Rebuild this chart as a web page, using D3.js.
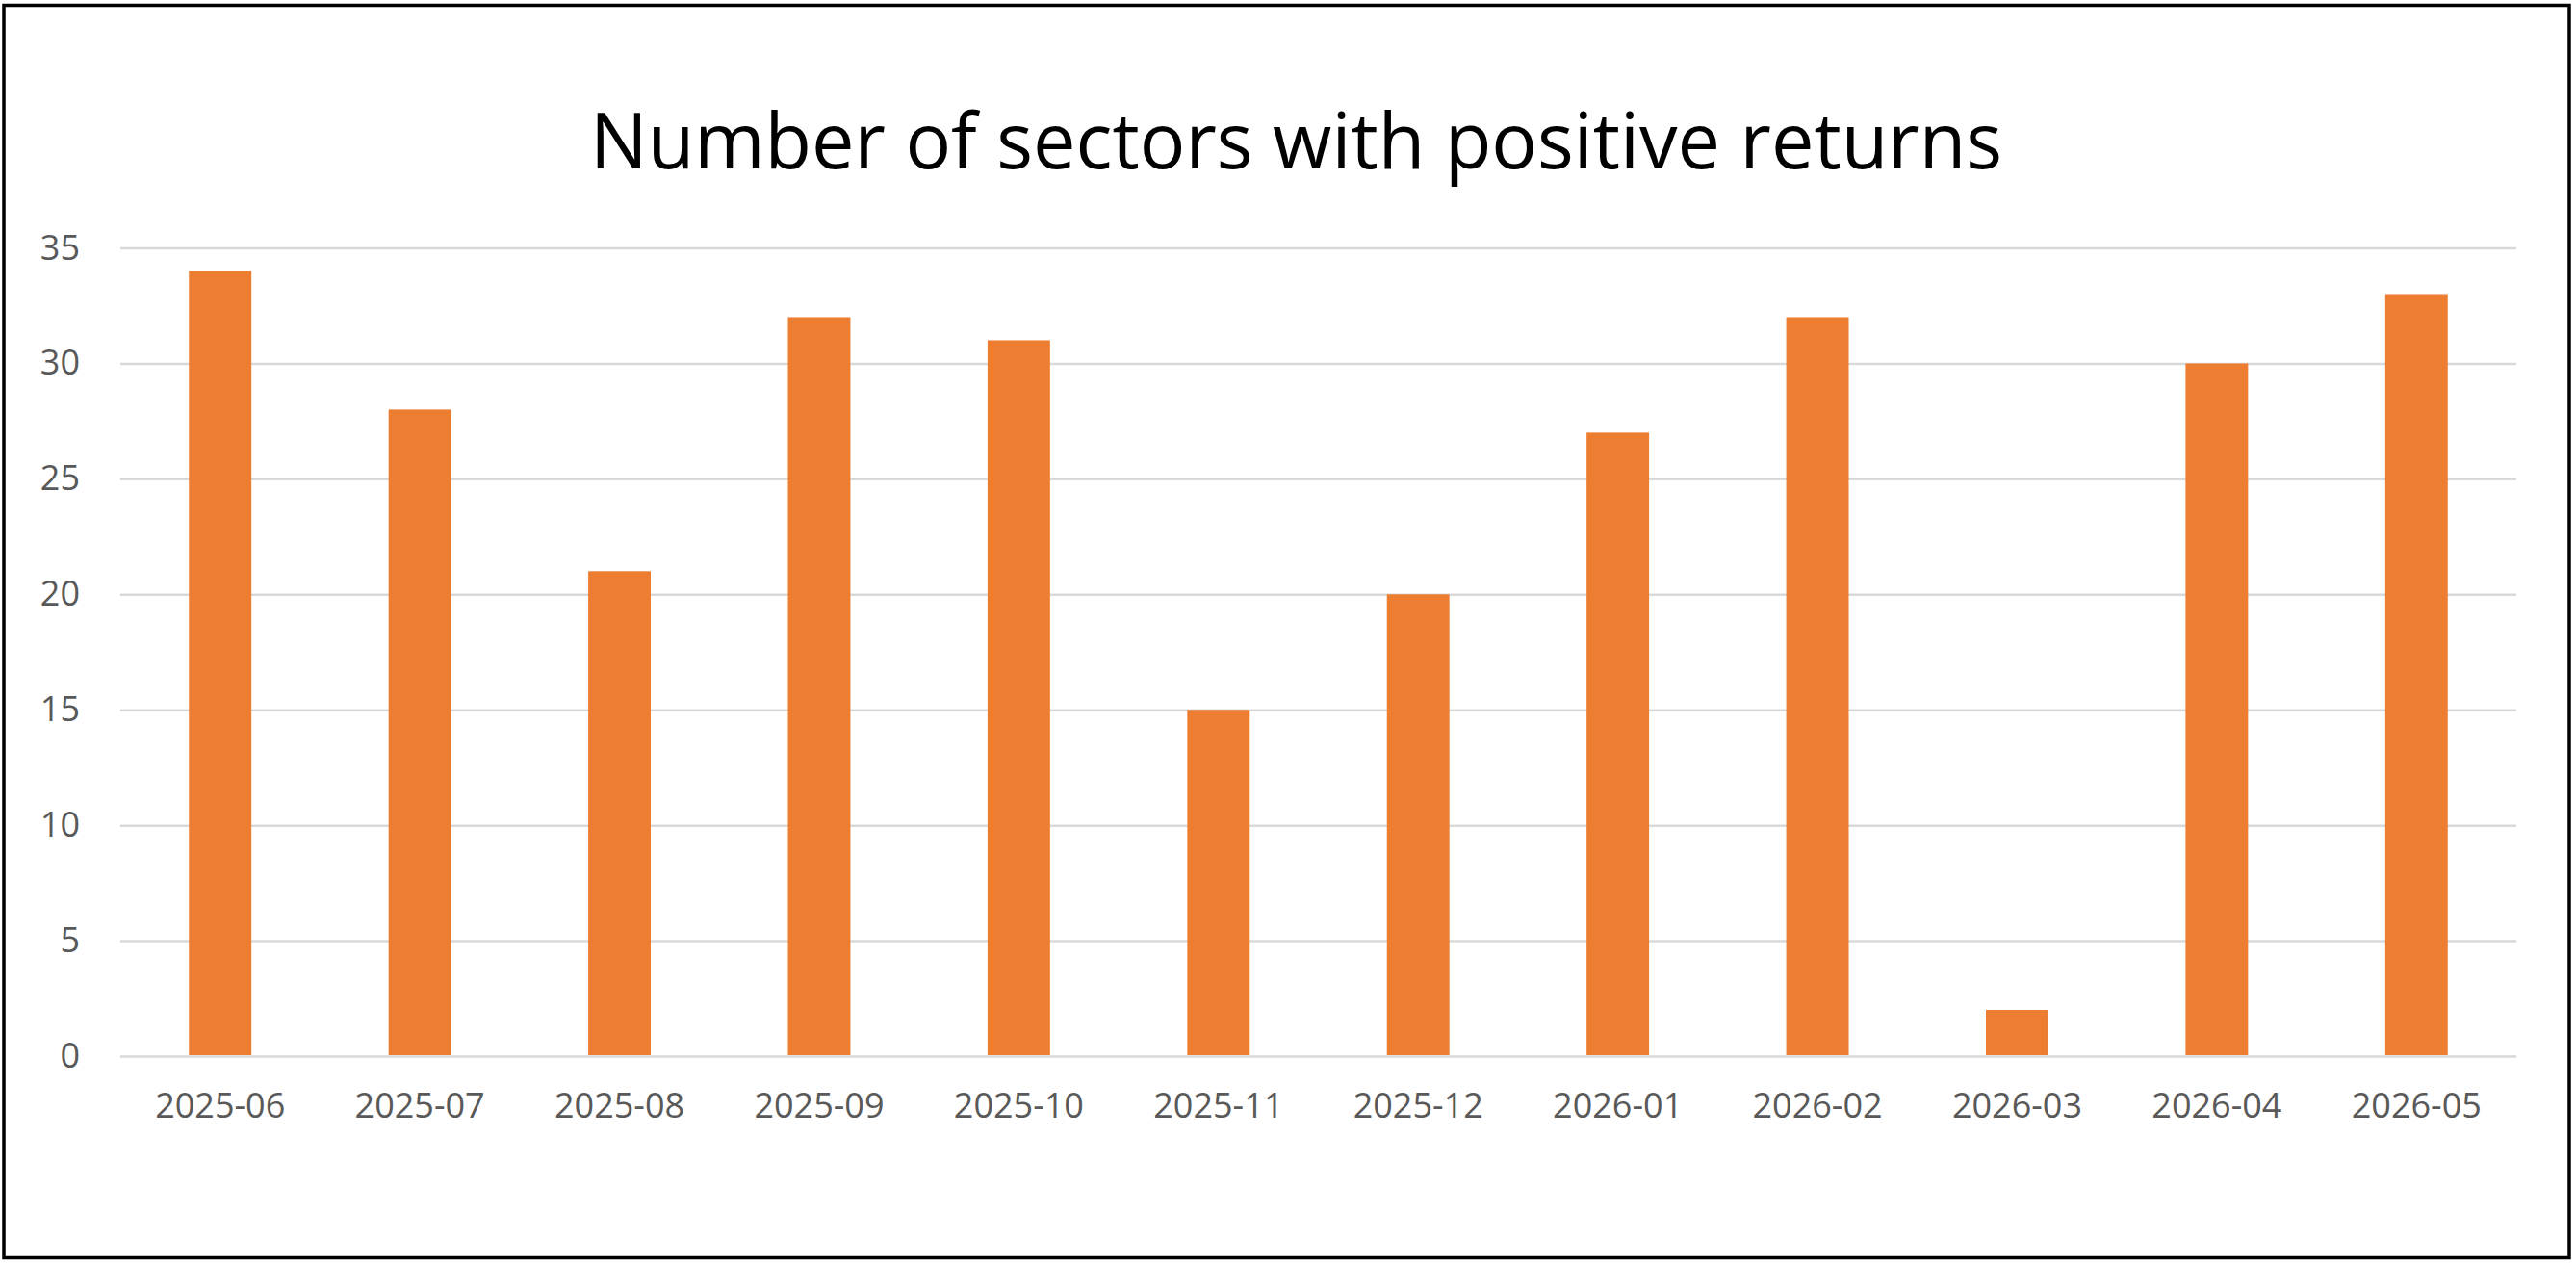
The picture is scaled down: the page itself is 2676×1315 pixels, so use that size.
<!DOCTYPE html>
<html>
<head>
<meta charset="utf-8">
<script src="https://d3js.org/d3.v7.min.js"></script>
<style>
    body { margin: 0; background: white; }
    svg { display: block; }
    .axis text { font-family: "Open Sans", sans-serif; fill: #595959; }
</style>
</head>
<body>
<div id="chart"></div>
<script>
    // data
    const months = ["2025-06", "2025-07", "2025-08", "2025-09", "2025-10", "2025-11",
        "2025-12", "2026-01", "2026-02", "2026-03", "2026-04", "2026-05"];
    const positiveSectors = [34, 28, 21, 32, 31, 15, 20, 27, 32, 2, 30, 33];
    const yTicks = [0, 5, 10, 15, 20, 25, 30, 35];
    const chartTitle = "Number of sectors with positive returns";

    const width = 2676, height = 1315;
    const margin = { top: 257.5, right: 62, bottom: 218, left: 125 };
    const innerW = width - margin.left - margin.right;
    const innerH = height - margin.top - margin.bottom;

    const svg = d3.select("#chart")
        .append("svg")
        .attr("width", width)
        .attr("height", height);

    // outer frame
    svg.append("rect")
        .attr("x", 4)
        .attr("y", 5.5)
        .attr("width", 2665)
        .attr("height", 1301)
        .attr("fill", "white")
        .attr("stroke", "black")
        .attr("stroke-width", 3.5);

    // title
    svg.append("text")
        .attr("x", 613)
        .attr("y", 175)
        .attr("textLength", 1467)
        .attr("lengthAdjust", "spacingAndGlyphs")
        .style("font-family", "'Open Sans', sans-serif")
        .style("font-size", "80px")
        .style("fill", "black")
        .text(chartTitle);

    const g = svg.append("g")
        .attr("transform", `translate(${margin.left},${margin.top})`);

    const x = d3.scaleBand()
        .domain(months)
        .range([0, innerW])
        .padding(0);

    const y = d3.scaleLinear()
        .domain([0, 35])
        .range([innerH, 0]);

    // y axis with gridlines
    const yAxis = g.append("g")
        .attr("class", "axis")
        .call(d3.axisLeft(y).tickValues(yTicks).tickSize(-innerW).tickPadding(42));
    yAxis.select(".domain").remove();
    yAxis.selectAll("line")
        .attr("stroke", "#d9d9d9")
        .attr("stroke-width", 2.5);
    yAxis.selectAll("text")
        .style("font-size", "36px");

    // x axis labels
    const xAxis = g.append("g")
        .attr("class", "axis")
        .attr("transform", `translate(0,${innerH})`)
        .call(d3.axisBottom(x).tickSize(0).tickPadding(38));
    xAxis.select(".domain").remove();
    xAxis.selectAll("text")
        .style("font-size", "36px");

    // bars
    const barW = x.bandwidth() * 0.313;
    g.selectAll(".bar")
        .data(positiveSectors)
        .join("rect")
        .attr("class", "bar")
        .attr("x", (d, i) => x(months[i]) + (x.bandwidth() - barW) / 2)
        .attr("y", d => y(d))
        .attr("width", barW)
        .attr("height", d => innerH - y(d) - 1)
        .attr("fill", "#ED7D31");
</script>
</body>
</html>
